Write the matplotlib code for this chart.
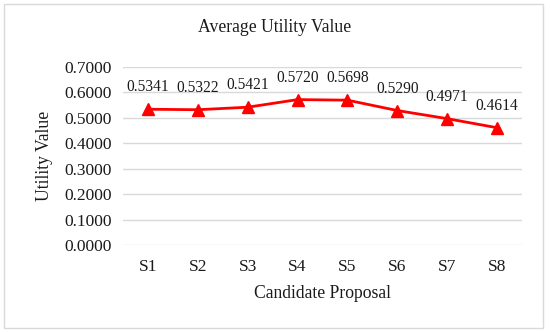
import matplotlib
matplotlib.use("Agg")
import matplotlib.pyplot as plt
from matplotlib.patches import Rectangle

plt.rcParams['font.family'] = ['Liberation Serif', 'DejaVu Serif']

# Data
proposals = ['S1', 'S2', 'S3', 'S4', 'S5', 'S6', 'S7', 'S8']
utility = [0.5341, 0.5322, 0.5421, 0.5720, 0.5698, 0.5290, 0.4971, 0.4614]
yticks = [0.0, 0.1, 0.2, 0.3, 0.4, 0.5, 0.6, 0.7]

fig = plt.figure(figsize=(5.5, 3.32), dpi=100)
ax = fig.add_axes([0.2236, 0.262, 0.7255, 0.536])

x = list(range(len(proposals)))
ax.plot(x, utility, color='#ff0000', lw=2, marker='^', markersize=8, zorder=3)
for xi, v in zip(x, utility):
    ax.annotate(f'{v:.4f}', (xi, v), xytext=(0, 10), textcoords='offset points',
                ha='center', va='bottom', fontsize=11.2, color='#1a1a1a')

ax.set_xlim(-0.5, 7.5)
ax.set_ylim(0, 0.7)
ax.set_yticks(yticks)
ax.set_yticklabels([f'{t:.4f}' for t in yticks])
ax.set_xticks(x)
ax.set_xticklabels(proposals)
ax.tick_params(length=0, labelsize=12.5, colors='#1a1a1a', pad=8)
ax.tick_params(axis='x', pad=10)
ax.grid(axis='y', color='#d9d9d9', lw=1)
ax.set_axisbelow(True)
for s in ax.spines.values():
    s.set_visible(False)

ax.set_xlabel('Candidate Proposal', fontsize=12.7, color='#1a1a1a', labelpad=7)
ax.set_ylabel('Utility Value', fontsize=12.7, color='#1a1a1a', labelpad=8)
fig.text(0.5, 0.918, 'Average Utility Value', ha='center', va='center',
         fontsize=12.7, color='#1a1a1a')

fig.patches.append(Rectangle((4 / 550, 4 / 332), 539 / 550, 324 / 332,
                             transform=fig.transFigure, fill=False,
                             edgecolor='#d9d9d9', lw=1))

fig.savefig('out.png', dpi=100)
